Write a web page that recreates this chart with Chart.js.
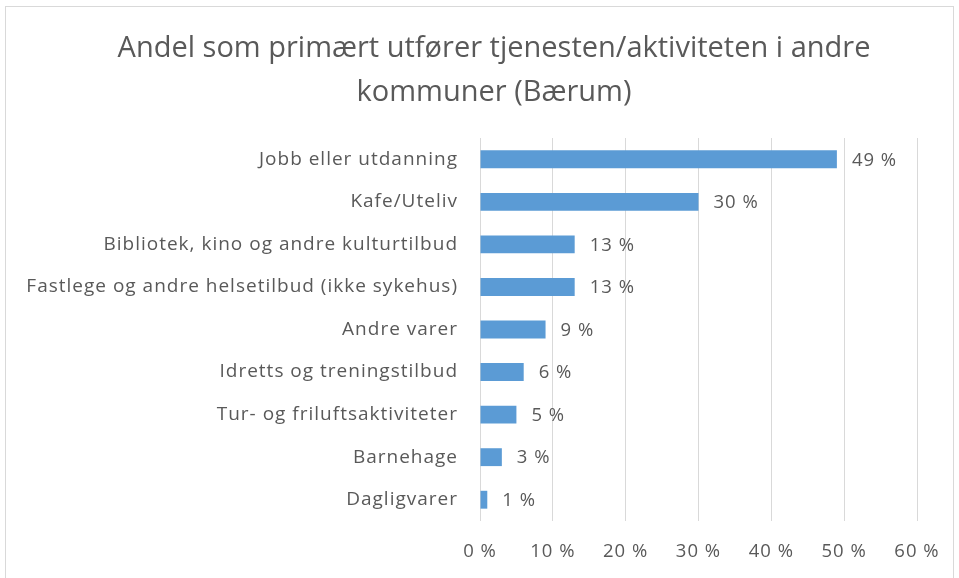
<!DOCTYPE html>
<html>
<head>
<meta charset="utf-8">
<script src="https://cdn.jsdelivr.net/npm/chart.js@4"></script>
<style>
  html, body { margin: 0; padding: 0; background: #fff; }
  #wrap { position: absolute; left: 0; top: 0; width: 959px; height: 578px; }
  #frame { position: absolute; left: 5px; top: 6px; width: 949px; height: 575px; border: 1px solid #d9d9d9; box-sizing: border-box; }
</style>
</head>
<body>
<div id="frame"></div>
<div id="wrap"><canvas id="chart" width="959" height="578"></canvas></div>
<script>
// data
const titleLines = ['Andel som primært utfører tjenesten/aktiviteten i andre', 'kommuner (Bærum)'];
const categories = [
  'Jobb eller utdanning',
  'Kafe/Uteliv',
  'Bibliotek, kino og andre kulturtilbud',
  'Fastlege og andre helsetilbud (ikke sykehus)',
  'Andre varer',
  'Idretts og treningstilbud',
  'Tur- og friluftsaktiviteter',
  'Barnehage',
  'Dagligvarer'
];
const shares = [49, 30, 13, 13, 9, 6, 5, 3, 1];
const tickValues = [0, 10, 20, 30, 40, 50, 60];

const grey = '#595959';
const family = "'Open Sans', sans-serif";

// tittel, sentrert over hele figuren
const titlePlugin = {
  id: 'titlePlugin',
  afterDraw(chart) {
    const ctx = chart.ctx;
    ctx.save();
    ctx.letterSpacing = '0px';
    ctx.fillStyle = grey;
    ctx.font = "29px " + family;
    ctx.textAlign = 'center';
    ctx.textBaseline = 'middle';
    titleLines.forEach((line, i) => ctx.fillText(line, 494, 49 + i * 44));
    ctx.restore();
  }
};

// litt sperret tekst som i originalen
const spacing = {
  id: 'spacing',
  beforeDraw(chart) { chart.ctx.letterSpacing = '1px'; }
};

// skriv verdien til høyre for hver stolpe
const valueLabels = {
  id: 'valueLabels',
  afterDatasetsDraw(chart) {
    const ctx = chart.ctx;
    const meta = chart.getDatasetMeta(0);
    ctx.save();
    ctx.fillStyle = grey;
    ctx.font = "18.5px " + family;
    ctx.textAlign = 'left';
    ctx.textBaseline = 'middle';
    meta.data.forEach((bar, i) => {
      ctx.fillText(shares[i] + ' %', bar.x + 15, bar.y + 1);
    });
    ctx.restore();
  }
};

const ctx = document.getElementById('chart').getContext('2d');
new Chart(ctx, {
  type: 'bar',
  data: {
    labels: categories,
    datasets: [{
      data: shares,
      backgroundColor: '#5b9bd5',
      barPercentage: 0.42,
      categoryPercentage: 1
    }]
  },
  options: {
    indexAxis: 'y',
    responsive: false,
    animation: false,
    layout: { padding: { left: 10, right: 42, top: 138, bottom: 6 } },
    plugins: {
      legend: { display: false },
      tooltip: { enabled: false },
      title: { display: false }
    },
    scales: {
      x: {
        min: 0,
        max: 60,
        afterBuildTicks(axis) {
          axis.ticks = tickValues.map(v => ({ value: v }));
        },
        grid: { color: '#d9d9d9', drawTicks: false },
        border: { display: false },
        ticks: {
          color: grey,
          font: { family: family, size: 18.5 },
          padding: 20,
          callback: v => v + ' %'
        },
        afterFit(axis) { axis.height = 51; }
      },
      y: {
        grid: { display: false, drawTicks: false },
        border: { display: false },
        ticks: { color: grey, font: { family: family, size: 19 }, padding: 22 },
        afterFit(axis) { axis.width = 470; }
      }
    }
  },
  plugins: [spacing, valueLabels, titlePlugin]
});
</script>
</body>
</html>
